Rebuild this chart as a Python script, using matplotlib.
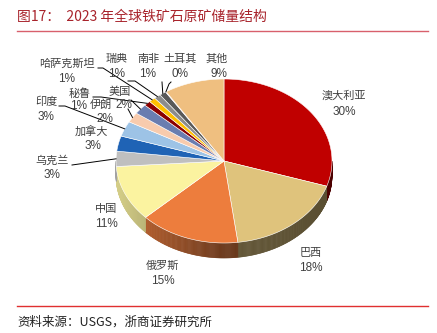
import numpy as np
import matplotlib.pyplot as plt
from matplotlib.patches import Polygon
from matplotlib.colors import to_rgb

plt.rcParams['font.family'] = ['Noto Sans CJK SC', 'DejaVu Sans']

# reserves share by country, clockwise from 12 o'clock
countries = ['澳大利亚', '巴西', '俄罗斯', '中国', '乌克兰', '加拿大', '印度', '伊朗',
             '美国', '秘鲁', '哈萨克斯坦', '瑞典', '南非', '土耳其', '其他']
shares = [30, 18, 15, 11, 3, 3, 3, 2, 2, 1, 1, 1, 1, 0.1, 9]
colors = ['#c00000', '#dfc37c', '#ed7d3d', '#fbf3a0', '#bfbfbf', '#1f63b5', '#9dc3e6',
          '#f8cbad', '#6a7db0', '#8b0000', '#ffc000', '#8c8c8c', '#5a5a5a', '#f4b8c8',
          '#efbf80']

# label placement: name centre, percent centre, leader line start (or None)
label_pos = {
    '澳大利亚': ((344, 96), (344, 112), None),
    '巴西': ((311, 253), (311, 268), None),
    '俄罗斯': ((162, 266), (163, 281), None),
    '中国': ((106, 209), (106, 224), None),
    '乌克兰': ((52, 161), (52, 175), [(72, 165)]),
    '加拿大': ((91, 131), (93, 146), None),
    '印度': ((46, 102), (46, 117), [(59, 106), (65, 106)]),
    '伊朗': ((101, 105), (105, 119), [(128, 109)]),
    '美国': ((120, 92), (124, 105), [(131, 100)]),
    '秘鲁': ((80, 93), (79, 106), [(93, 97), (101, 97)]),
    '哈萨克斯坦': ((67, 64), (67, 79), [(98, 68), (103, 68)]),
    '瑞典': ((117, 59), (117, 74), [(128, 81), (135, 81)]),
    '南非': ((148, 59), (148, 74), [(162, 82)]),
    '土耳其': ((180, 59), (180, 74), [(171, 82), (169, 84)]),
    '其他': ((217, 59), (219, 74), None),
}

W, H = 437, 333
fig = plt.figure(figsize=(W / 100, H / 100), dpi=100)
ax = fig.add_axes([0, 0, 1, 1])
ax.set_xlim(0, W)
ax.set_ylim(H, 0)
ax.axis('off')

cx, cy, rx, ry, depth = 224, 161, 108, 82, 15


def rim(a):
    return cx + rx * np.sin(a), cy - ry * np.cos(a)


def shade(a):
    s = np.sin(a)
    return 0.45 - 0.05 * s if s > 0 else 0.45 - 0.4 * s


frac = np.array(shares) / sum(shares)
bounds = np.concatenate([[0], np.cumsum(frac)]) * 2 * np.pi

# side wall, front half only
step = np.radians(0.5)
for i, col in enumerate(colors):
    a0 = max(bounds[i], np.pi / 2)
    a1 = min(bounds[i + 1], 3 * np.pi / 2)
    if a1 <= a0:
        continue
    angs = np.arange(a0, a1, step)
    angs = np.append(angs, a1)
    base = np.array(to_rgb(col))
    for b0, b1 in zip(angs[:-1], angs[1:]):
        x0, y0 = rim(b0)
        x1, y1 = rim(b1)
        c = np.clip(base * shade((b0 + b1) / 2), 0, 1)
        ax.add_patch(Polygon([(x0, y0), (x1, y1), (x1, y1 + depth), (x0, y0 + depth)],
                             closed=True, facecolor=c, edgecolor=c, lw=0.4, zorder=1))

# top faces
for i, col in enumerate(colors):
    angs = np.linspace(bounds[i], bounds[i + 1], max(3, int((bounds[i + 1] - bounds[i]) / step)))
    xs, ys = rim(angs)
    pts = [(cx, cy)] + list(zip(xs, ys))
    ax.add_patch(Polygon(pts, closed=True, facecolor=col, edgecolor='white', lw=0.4, zorder=2))

# labels and leader lines
txt_col = '#404040'
for i, name in enumerate(countries):
    (nx, ny), (px, py), line = label_pos[name]
    ax.text(nx, ny, name, ha='center', va='center', fontsize=8, color=txt_col, zorder=4)
    ax.text(px, py, f'{shares[i]:.0f}%', ha='center', va='center', fontsize=8.5,
            family='Liberation Sans', color=txt_col, zorder=4)
    if line:
        mid = (bounds[i] + bounds[i + 1]) / 2
        ex, ey = rim(mid)
        pts = line + [(ex, ey)]
        ax.plot([p[0] for p in pts], [p[1] for p in pts], color='black', lw=0.7, zorder=3)

# header and footer
ax.text(17, 17, '图17：  2023 年全球铁矿石原矿储量结构', ha='left', va='center',
        fontsize=10, color='#a8232b')
ax.plot([17, 428], [31, 31], color='#d8606c', lw=1)
ax.plot([17, 428], [306, 306], color='#e03030', lw=1)
ax.text(17, 322, '资料来源：USGS，浙商证券研究所', ha='left', va='center',
        fontsize=9, color='#222222')

fig.savefig('out.png', dpi=100)
